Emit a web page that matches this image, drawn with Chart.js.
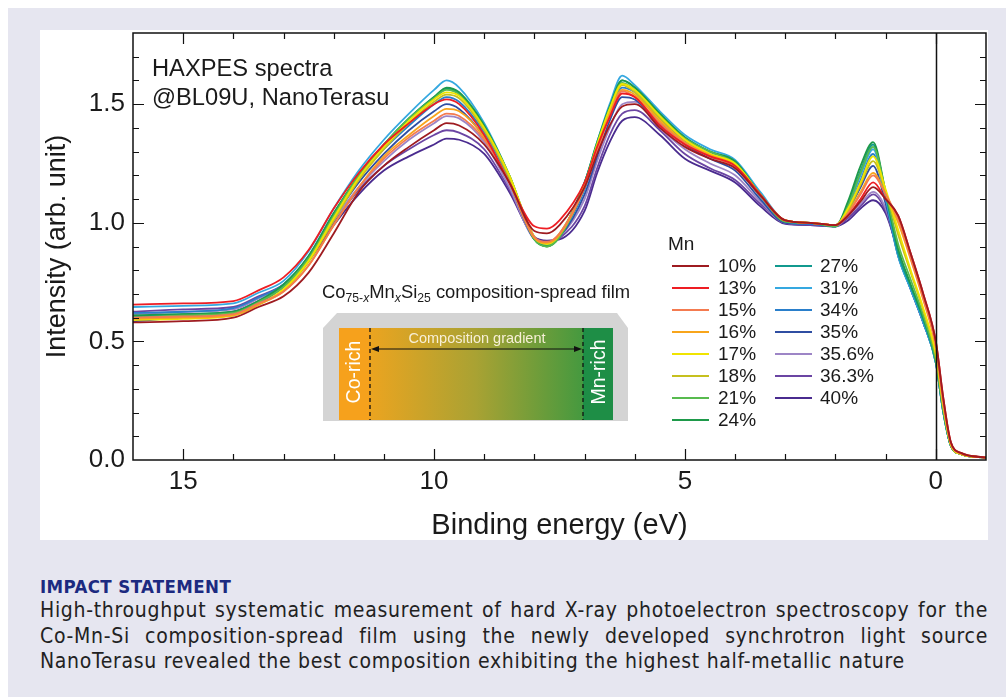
<!DOCTYPE html>
<html>
<head>
  <meta charset="UTF-8">
  <title>HAXPES spectra</title>
  <script src="https://cdn.jsdelivr.net/npm/chart.js"></script>
  <style>
    body {
      margin: 0;
      width: 1006px;
      height: 697px;
      position: relative;
      overflow: hidden;
      background: #fff;
      font-family: "Liberation Sans", Arial, sans-serif;
      color: #1a1a1a;
    }
    .bg { position: absolute; left: 8px; top: 8px; width: 998px; height: 689px; background: #e6e6f0; }
    .panel { position: absolute; left: 40px; top: 30px; width: 948px; height: 510px; background: #fff; }
    #spectra { position: absolute; left: 40px; top: 30px; }
    .note { position: absolute; left: 152px; font-size: 23.7px; line-height: 28px; white-space: nowrap; }
    .leg-title { position: absolute; left: 668px; top: 233px; font-size: 19px; line-height: 22px; }
    .leg-line { position: absolute; width: 37px; height: 2px; }
    .leg-text { position: absolute; font-size: 19px; line-height: 22px; white-space: nowrap; }
    #inset { position: absolute; left: 318px; top: 280px; }
    .impact-head {
      position: absolute; left: 40px; top: 577px;
      font-family: "Liberation Sans Narrow", "DejaVu Sans Condensed", sans-serif;
      font-weight: bold; font-size: 18.5px; letter-spacing: 0.4px; line-height: 20px; color: #1c2a80;
    }
    .impact {
      position: absolute; left: 40px; top: 598px; width: 948px;
      font-family: "Liberation Sans Narrow", "DejaVu Sans Condensed", sans-serif;
      font-size: 21px; letter-spacing: 0.7px; line-height: 25.5px; color: #222;
    }
    .impact div { white-space: nowrap; }
    .impact .j { text-align: justify; text-align-last: justify; white-space: normal; }
  </style>
</head>
<body>
  <div class="bg"></div>
  <div class="panel"></div>
  <canvas id="spectra" width="948" height="515"></canvas>

  <div class="note" style="top:54px">HAXPES spectra</div>
  <div class="note" style="top:83px">@BL09U, NanoTerasu</div>

  <div class="leg-title">Mn</div>
  <div id="legend"></div>

  <svg id="inset" width="320" height="145" xmlns="http://www.w3.org/2000/svg">
    <defs>
      <linearGradient id="film" x1="0" x2="1" y1="0" y2="0">
        <stop offset="0" stop-color="#f6a11c"/>
        <stop offset="0.113" stop-color="#f6a11c"/>
        <stop offset="0.114" stop-color="#eba420"/>
        <stop offset="0.5" stop-color="#a9a233"/>
        <stop offset="0.89" stop-color="#45993f"/>
        <stop offset="0.891" stop-color="#1e8e46"/>
        <stop offset="1" stop-color="#1e8e46"/>
      </linearGradient>
    </defs>
    <text x="4" y="18" font-size="18.4" fill="#1a1a1a" font-family="Liberation Sans, Arial, sans-serif">Co<tspan font-size="12.2" dy="4">75-</tspan><tspan font-size="12.2" font-style="italic">x</tspan><tspan dy="-4">Mn</tspan><tspan font-size="12.2" font-style="italic" dy="4">x</tspan><tspan dy="-4">Si</tspan><tspan font-size="12.2" dy="4">25</tspan><tspan dy="-4"> composition-spread film</tspan></text>
    <polygon points="19,33 299,33 310,48 310,141 5,141 5,48" fill="#d4d4d4"/>
    <rect x="21" y="48" width="274" height="92" fill="url(#film)"/>
    <line x1="52" y1="48" x2="52" y2="140" stroke="#111" stroke-width="1.3" stroke-dasharray="4 3"/>
    <line x1="265" y1="48" x2="265" y2="140" stroke="#111" stroke-width="1.3" stroke-dasharray="4 3"/>
    <line x1="58" y1="69" x2="259" y2="69" stroke="#111" stroke-width="1.2"/>
    <polygon points="53,69 61,66 61,72" fill="#111"/>
    <polygon points="264,69 256,66 256,72" fill="#111"/>
    <text x="159" y="58" font-size="14.5" fill="#f7efd6" text-anchor="middle" dominant-baseline="central" font-family="Liberation Sans, Arial, sans-serif">Composition gradient</text>
    <text transform="translate(35,92) rotate(-90)" font-size="19.5" fill="#fff" text-anchor="middle" dominant-baseline="central" font-family="Liberation Sans, Arial, sans-serif">Co-rich</text>
    <text transform="translate(280,92) rotate(-90)" font-size="19.5" fill="#fff" text-anchor="middle" dominant-baseline="central" font-family="Liberation Sans, Arial, sans-serif">Mn-rich</text>
  </svg>

  <div class="impact-head">IMPACT STATEMENT</div>
  <div class="impact">
    <div class="j">High-throughput systematic measurement of hard X-ray photoelectron spectroscopy for the</div>
    <div class="j">Co-Mn-Si composition-spread film using the newly developed synchrotron light source</div>
    <div>NanoTerasu revealed the best composition exhibiting the highest half-metallic nature</div>
  </div>

  <script>
    // binding energy grid (eV), shared by every spectrum
    const energy = [16, 15, 14, 13.5, 13, 12.5, 12, 11.5, 11, 10.5, 10, 9.75, 9.5, 9, 8.5,
                    8, 7.75, 7.5, 7, 6.75, 6.5, 6.25, 6, 5.5, 5, 4.5, 4, 3.5, 3, 2.5,
                    2, 1.75, 1.5, 1.25, 1, 0.75, 0.5, 0.25, 0, -0.15, -0.3, -0.5, -1];

    const mnLabels = ['10%', '13%', '15%', '16%', '17%', '18%', '21%', '24%',
                      '27%', '31%', '34%', '35%', '35.6%', '36.3%', '40%'];
    const mnColors = ['#9e1b20', '#ee1d23', '#f47b50', '#f8a51b', '#f0e400', '#c6c01e', '#58bb4f', '#1e9a4a',
                      '#11998e', '#35a8e0', '#2a7fcb', '#2f4ea2', '#9d85c6', '#6b45a3', '#4a2b8f'];

    // intensity (arb. unit), one array per Mn content
    const mn10 = [0.58, 0.585, 0.60, 0.645, 0.69, 0.79, 0.955, 1.13, 1.24, 1.32, 1.39, 1.42, 1.41, 1.33,
                  1.17, 0.965, 0.955, 0.99, 1.15, 1.29, 1.41, 1.49, 1.50,
                  1.40, 1.32, 1.27, 1.23, 1.115, 1.01, 1.0, 0.99,
                  1.03, 1.09, 1.15, 1.10, 1.03, 0.87, 0.70, 0.50, 0.26, 0.075, 0.03, 0.01];
    const mn13 = [0.655, 0.66, 0.67, 0.715, 0.77, 0.885, 1.06, 1.21, 1.33, 1.42, 1.50, 1.52, 1.50, 1.37,
                  1.17, 0.985, 0.975, 1.01, 1.17, 1.32, 1.445, 1.545, 1.53,
                  1.41, 1.33, 1.28, 1.24, 1.12, 1.01, 1.0, 0.99,
                  1.03, 1.10, 1.17, 1.10, 1.03, 0.87, 0.70, 0.50, 0.26, 0.075, 0.03, 0.01];
    const mn15 = [0.60, 0.605, 0.615, 0.66, 0.71, 0.82, 0.99, 1.15, 1.27, 1.36, 1.43, 1.46, 1.45, 1.35,
                  1.17, 0.94, 0.92, 0.955, 1.15, 1.30, 1.45, 1.555, 1.53,
                  1.42, 1.335, 1.28, 1.235, 1.115, 1.01, 1.0, 0.99,
                  1.04, 1.12, 1.20, 1.12, 1.015, 0.85, 0.68, 0.48, 0.24, 0.07, 0.028, 0.01];
    const mn16 = [0.595, 0.60, 0.61, 0.655, 0.71, 0.82, 0.99, 1.15, 1.28, 1.37, 1.45, 1.48, 1.47, 1.36,
                  1.17, 0.935, 0.915, 0.95, 1.15, 1.31, 1.46, 1.56, 1.54,
                  1.43, 1.34, 1.285, 1.24, 1.115, 1.01, 1.0, 0.99,
                  1.04, 1.13, 1.21, 1.12, 1.0, 0.845, 0.675, 0.475, 0.24, 0.07, 0.028, 0.01];
    const mn17 = [0.59, 0.595, 0.61, 0.655, 0.72, 0.84, 1.02, 1.19, 1.32, 1.43, 1.52, 1.55, 1.535, 1.40,
                  1.20, 0.94, 0.91, 0.95, 1.16, 1.33, 1.48, 1.585, 1.56,
                  1.45, 1.35, 1.29, 1.25, 1.12, 1.01, 1.0, 0.99,
                  1.06, 1.17, 1.28, 1.14, 0.97, 0.80, 0.64, 0.45, 0.23, 0.065, 0.025, 0.01];
    const mn18 = [0.595, 0.60, 0.61, 0.655, 0.715, 0.835, 1.01, 1.18, 1.31, 1.42, 1.51, 1.54, 1.525, 1.39,
                  1.19, 0.94, 0.915, 0.955, 1.16, 1.32, 1.47, 1.58, 1.55,
                  1.44, 1.35, 1.29, 1.245, 1.115, 1.01, 1.0, 0.99,
                  1.05, 1.16, 1.26, 1.13, 0.95, 0.79, 0.63, 0.44, 0.22, 0.065, 0.025, 0.01];
    const mn21 = [0.60, 0.61, 0.62, 0.665, 0.73, 0.85, 1.03, 1.20, 1.33, 1.44, 1.525, 1.56, 1.54, 1.40,
                  1.20, 0.93, 0.90, 0.94, 1.16, 1.33, 1.48, 1.59, 1.56,
                  1.45, 1.355, 1.30, 1.25, 1.12, 1.005, 1.0, 0.985,
                  1.07, 1.21, 1.32, 1.13, 0.91, 0.76, 0.61, 0.42, 0.21, 0.06, 0.025, 0.01];
    const mn24 = [0.61, 0.615, 0.625, 0.67, 0.74, 0.86, 1.04, 1.20, 1.33, 1.44, 1.53, 1.57, 1.55, 1.41,
                  1.20, 0.93, 0.90, 0.94, 1.17, 1.34, 1.49, 1.60, 1.57,
                  1.46, 1.36, 1.30, 1.26, 1.12, 1.01, 1.0, 0.985,
                  1.09, 1.24, 1.34, 1.13, 0.89, 0.74, 0.60, 0.42, 0.21, 0.06, 0.025, 0.01];
    const mn27 = [0.605, 0.615, 0.625, 0.67, 0.735, 0.855, 1.035, 1.20, 1.33, 1.44, 1.53, 1.565, 1.545, 1.40,
                  1.19, 0.93, 0.905, 0.945, 1.17, 1.33, 1.48, 1.60, 1.57,
                  1.46, 1.36, 1.30, 1.255, 1.12, 1.005, 1.0, 0.985,
                  1.08, 1.22, 1.33, 1.12, 0.87, 0.73, 0.59, 0.41, 0.20, 0.06, 0.025, 0.01];
    const mn31 = [0.645, 0.65, 0.66, 0.705, 0.755, 0.88, 1.06, 1.22, 1.35, 1.46, 1.56, 1.60, 1.57, 1.42,
                  1.20, 0.94, 0.91, 0.95, 1.17, 1.34, 1.50, 1.62, 1.58,
                  1.47, 1.37, 1.31, 1.265, 1.13, 1.01, 1.0, 0.99,
                  1.07, 1.20, 1.31, 1.11, 0.86, 0.72, 0.58, 0.41, 0.20, 0.06, 0.025, 0.01];
    const mn34 = [0.62, 0.625, 0.64, 0.685, 0.74, 0.86, 1.04, 1.19, 1.31, 1.41, 1.50, 1.53, 1.51, 1.38,
                  1.18, 0.93, 0.91, 0.945, 1.14, 1.31, 1.46, 1.57, 1.55,
                  1.44, 1.345, 1.28, 1.24, 1.11, 1.005, 0.995, 0.985,
                  1.06, 1.18, 1.29, 1.10, 0.86, 0.72, 0.58, 0.41, 0.20, 0.06, 0.025, 0.01];
    const mn35 = [0.585, 0.60, 0.615, 0.66, 0.73, 0.85, 1.02, 1.17, 1.29, 1.39, 1.47, 1.50, 1.48, 1.36,
                  1.17, 0.93, 0.91, 0.94, 1.12, 1.28, 1.43, 1.53, 1.52,
                  1.42, 1.33, 1.27, 1.22, 1.10, 1.0, 0.995, 0.985,
                  1.05, 1.15, 1.24, 1.08, 0.86, 0.72, 0.58, 0.41, 0.20, 0.06, 0.025, 0.01];
    const mn356 = [0.615, 0.625, 0.635, 0.68, 0.735, 0.85, 1.01, 1.15, 1.26, 1.35, 1.42, 1.45, 1.44, 1.34,
                   1.15, 0.93, 0.915, 0.94, 1.10, 1.26, 1.40, 1.50, 1.51,
                   1.40, 1.31, 1.25, 1.20, 1.09, 1.0, 0.995, 0.985,
                   1.03, 1.08, 1.13, 1.06, 0.88, 0.73, 0.58, 0.42, 0.21, 0.06, 0.025, 0.01];
    const mn363 = [0.625, 0.635, 0.645, 0.69, 0.74, 0.85, 1.0, 1.14, 1.24, 1.31, 1.37, 1.39, 1.38, 1.31,
                   1.14, 0.935, 0.92, 0.935, 1.07, 1.23, 1.37, 1.46, 1.475,
                   1.39, 1.29, 1.23, 1.18, 1.08, 1.0, 0.99, 0.985,
                   1.02, 1.07, 1.12, 1.05, 0.88, 0.73, 0.58, 0.42, 0.21, 0.06, 0.025, 0.01];
    const mn40 = [0.60, 0.61, 0.625, 0.67, 0.73, 0.84, 0.99, 1.12, 1.22, 1.28, 1.33, 1.355, 1.35, 1.29,
                  1.13, 0.94, 0.925, 0.93, 1.05, 1.21, 1.34, 1.43, 1.445,
                  1.37, 1.27, 1.22, 1.17, 1.07, 0.995, 0.99, 0.985,
                  1.01, 1.06, 1.095, 1.04, 0.88, 0.72, 0.58, 0.42, 0.21, 0.06, 0.025, 0.01];

    const spectra = [mn10, mn13, mn15, mn16, mn17, mn18, mn21, mn24,
                     mn27, mn31, mn34, mn35, mn356, mn363, mn40];

    const xTicks = [15, 10, 5, 0];
    const yTicks = [0, 0.5, 1.0, 1.5];

    // frame, inward tick marks and the 0 eV line
    const framePlugin = {
      id: 'frame',
      afterDatasetsDraw(chart) {
        const { ctx, chartArea: a, scales: { x, y } } = chart;
        ctx.save();
        ctx.strokeStyle = '#111';
        ctx.lineWidth = 1.2;
        ctx.beginPath();
        for (let v = 0; v <= 15; v++) {
          const px = Math.round(x.getPixelForValue(v)) + 0.5;
          const len = v % 5 === 0 ? 11 : 6;
          ctx.moveTo(px, a.bottom); ctx.lineTo(px, a.bottom - len);
          ctx.moveTo(px, a.top); ctx.lineTo(px, a.top + len);
        }
        for (let i = 1; i <= 17; i++) {
          const py = Math.round(y.getPixelForValue(i / 10)) + 0.5;
          const len = i % 5 === 0 ? 11 : 6;
          ctx.moveTo(a.left, py); ctx.lineTo(a.left + len, py);
          ctx.moveTo(a.right, py); ctx.lineTo(a.right - len, py);
        }
        ctx.stroke();
        ctx.lineWidth = 1.5;
        const x0 = Math.round(x.getPixelForValue(0)) + 0.5;
        ctx.beginPath();
        ctx.moveTo(x0, a.top); ctx.lineTo(x0, a.bottom);
        ctx.stroke();
        ctx.strokeRect(a.left, a.top, a.width, a.height);
        ctx.restore();
      }
    };

    const noPad = s => { s.paddingTop = 0; s.paddingBottom = 0; s.paddingLeft = 0; s.paddingRight = 0; };

    const ctx = document.getElementById('spectra').getContext('2d');
    new Chart(ctx, {
      type: 'line',
      data: {
        datasets: spectra.map((vals, i) => ({
          label: mnLabels[i],
          data: vals.map((v, k) => ({ x: energy[k], y: v })),
          borderColor: mnColors[i],
          borderWidth: 1.8,
          pointRadius: 0,
          fill: false,
          cubicInterpolationMode: 'monotone'
        }))
      },
      options: {
        responsive: false,
        animation: false,
        devicePixelRatio: 1,
        layout: { padding: { top: 3, right: 2, left: 0, bottom: 0 } },
        plugins: { legend: { display: false }, tooltip: { enabled: false } },
        scales: {
          x: {
            type: 'linear',
            reverse: true,
            min: -1,
            max: 16,
            grid: { display: false, drawTicks: false },
            border: { display: false },
            afterBuildTicks: s => { s.ticks = xTicks.map(v => ({ value: v })); },
            afterFit: s => { s.height = 85; noPad(s); },
            ticks: { font: { size: 26, family: 'Liberation Sans' }, color: '#1a1a1a', padding: 6, maxRotation: 0, autoSkip: false },
            title: { display: true, text: 'Binding energy (eV)', font: { size: 29, family: 'Liberation Sans' }, color: '#1a1a1a', padding: { top: 0, bottom: 2 } }
          },
          y: {
            min: 0,
            max: 1.8,
            grid: { display: false, drawTicks: false },
            border: { display: false },
            afterBuildTicks: s => { s.ticks = yTicks.map(v => ({ value: v })); },
            afterFit: s => { s.width = 93; noPad(s); },
            ticks: { font: { size: 26, family: 'Liberation Sans' }, color: '#1a1a1a', padding: 8, callback: v => v.toFixed(1) },
            title: { display: true, text: 'Intensity (arb. unit)', font: { size: 27, family: 'Liberation Sans' }, color: '#1a1a1a', padding: { top: 1, bottom: 0 } }
          }
        }
      },
      plugins: [framePlugin]
    });

    // legend in two columns inside the plot
    const legend = document.getElementById('legend');
    mnLabels.forEach((lab, i) => {
      const col = i < 8 ? 0 : 1;
      const row = i < 8 ? i : i - 8;
      const cy = 266 + row * 22;
      const line = document.createElement('div');
      line.className = 'leg-line';
      line.style.left = (col ? 775 : 672) + 'px';
      line.style.top = (cy - 1) + 'px';
      line.style.background = mnColors[i];
      const txt = document.createElement('div');
      txt.className = 'leg-text';
      txt.style.left = (col ? 820 : 718) + 'px';
      txt.style.top = (cy - 11) + 'px';
      txt.textContent = lab;
      legend.appendChild(line);
      legend.appendChild(txt);
    });
  </script>
</body>
</html>
